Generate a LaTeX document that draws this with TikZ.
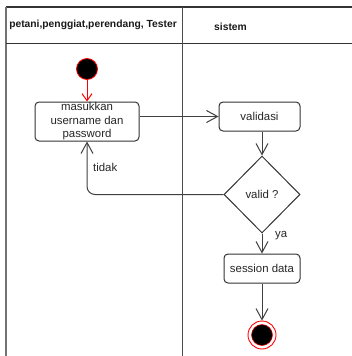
\documentclass[tikz,border=0pt]{standalone}
\usepackage{fontspec}
\setmainfont{Liberation Sans}
\usetikzlibrary{arrows.meta,shapes.geometric}

\begin{document}
\begin{tikzpicture}[x=1pt,y=-1pt,
  lane/.style={draw=black!80, line width=1.2pt},
  box/.style={draw=black!80, line width=1pt, rounded corners=4pt, fill=white,
    inner sep=0pt, align=center, text=black!85,
    font=\fontsize{11.4}{13.5}\selectfont},
  decision/.style={diamond, aspect=1, draw=black!80, line width=1pt, fill=white,
    inner sep=0pt, text=black!85, font=\fontsize{11.4}{13.5}\selectfont},
  head/.style={text=black!90, font=\bfseries\fontsize{10.3}{12}\selectfont},
  lbl/.style={text=black!85, font=\fontsize{11.4}{13.5}\selectfont, inner sep=0pt},
  conn/.style={draw=black!75, line width=1pt,
    -{Straight Barb[length=11pt,width=12pt,line width=1pt]}},
]
\useasboundingbox (0,0) rectangle (352,356);

% swimlane frame
\draw[lane] (6,7) -- (352,7);
\draw[draw=black!55, line width=2pt] (6,7) -- (6,356);
\draw[lane] (6,43.5) -- (352,43.5);
\draw[draw=black!70, line width=1.2pt] (182.5,7) -- (182.5,356);

% lane headers
\node[head] (h1) at (93,25) {petani,penggiat,perendang, Tester};
\node[head] (h2) at (230.5,27) {sistem};

% activity nodes
\node[circle, fill=black, draw=red, line width=0.8pt, minimum size=21pt, inner sep=0pt] (start) at (87,69) {};
\node[box, minimum width=104pt, minimum height=39pt] (inp) at (87,121.5) {masukkan\\username dan\\password};
\node[box, minimum width=81pt, minimum height=29pt] (val) at (259.5,116.5) {validasi};
\node[decision, minimum width=76pt, minimum height=77pt] (dia) at (262,194.5) {valid ?};
\node[box, minimum width=76pt, minimum height=29pt] (sess) at (262,268.5) {session data};
\node[circle, draw=red, line width=0.9pt, fill=white, minimum size=28pt, inner sep=0pt] (end) at (262,335) {};
\node[circle, draw=red, line width=0.5pt, fill=black, minimum size=21pt, inner sep=0pt] (endin) at (end.center) {};

% connectors
\draw[draw=red, line width=1pt, -{Straight Barb[length=7pt,width=10pt,line width=1pt]}] (start) -- (inp);
\draw[conn] (inp.east |- val.west) -- (val.west);
\draw[conn] (val.south -| dia.north) -- (dia.north);
\draw[conn, rounded corners=8pt] (dia.west) -| (inp.south);
\draw[conn] (dia.south) -- (sess.north);
\draw[conn] (sess.south) -- (end.north);

% branch labels
\node[lbl, anchor=west] (ltidak) at (93,167) {tidak};
\node[lbl, anchor=west] (lya) at (275,236) {ya};
\end{tikzpicture}
\end{document}
